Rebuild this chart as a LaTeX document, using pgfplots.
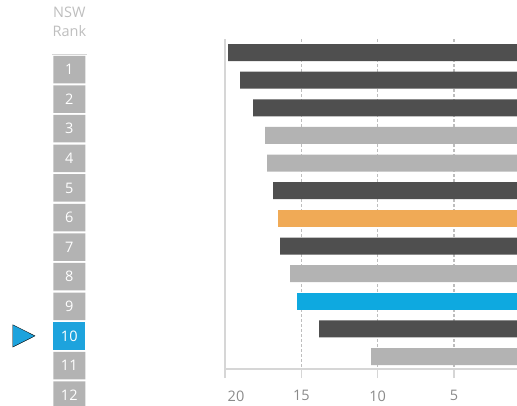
\documentclass[border=0pt]{standalone}
\usepackage{fontspec}
\setmainfont{Open Sans}
\usepackage{pgfplots}
\pgfplotsset{compat=1.18}

\definecolor{darkbar}{HTML}{4F4F4F}
\definecolor{lightbar}{HTML}{B3B3B3}
\definecolor{orangebar}{HTML}{F0AA56}
\definecolor{bluebar}{HTML}{0EA9E0}
\definecolor{rankblue}{HTML}{1DA3DD}
\definecolor{axisline}{HTML}{D6D6D6}
\definecolor{gridline}{HTML}{BEBEBE}
\definecolor{ticktext}{HTML}{8A8A8A}
\definecolor{headtext}{HTML}{BEBEBE}

\begin{document}
\begin{tikzpicture}[x=1pt,y=1pt]
\path[use as bounding box] (0,0) rectangle (517,405);

% bars: value per rank
\begin{axis}[
    at={(225pt,366pt)}, anchor=north west,
    scale only axis, width=292pt, height=330pt,
    xbar, bar width=17pt, bar shift=0pt,
    x dir=reverse, y dir=reverse,
    xmin=0.87, xmax=20, ymin=0.51, ymax=12.45,
    axis x line*=bottom, axis y line=none,
    axis line style={draw=axisline, line width=1.5pt},
    xtick={15,10,5}, ytick=\empty,
    extra x ticks={20},
    extra x tick style={grid style={solid, draw=axisline, line width=1.5pt},
        xticklabel style={xshift=11pt}},
    xmajorgrids,
    grid style={draw=gridline, line width=1.2pt, dash pattern=on 3pt off 2pt},
    tick style={draw=axisline, line width=1.5pt},
    major tick length=9pt, tick align=outside,
    ticklabel style={font=\fontsize{14.5}{17}\selectfont, text=ticktext},
    xticklabel style={yshift=-9pt},
    /pgf/number format/assume math mode=true,
]
\addplot[fill=darkbar, draw=none] coordinates {(19.80,1) (19.01,2) (18.16,3) (16.85,6) (16.39,8) (13.84,11)};
\addplot[fill=lightbar, draw=none] coordinates {(17.37,4) (17.24,5) (15.74,9) (10.43,12)};
\addplot[fill=orangebar, draw=none] coordinates {(16.52,7)};
\addplot[fill=bluebar, draw=none] coordinates {(15.28,10)};
\end{axis}

% rank column
\begin{axis}[
    at={(52pt,350.3pt)}, anchor=north west,
    scale only axis, width=34.7pt, height=355.2pt,
    y dir=reverse, clip=false,
    xmin=-0.04, xmax=1.044, ymin=0.5, ymax=12.5,
    axis lines=none, xtick=\empty, ytick=\empty,
    title={NSW\\Rank},
    title style={align=center, text=headtext, at={(0.5,1)}, anchor=south,
        inner sep=0pt, yshift=11.7pt, font=\fontsize{14.5}{19}\selectfont},
]
\addplot[xbar, bar width=27.5pt, bar shift=0pt, fill=lightbar, draw=none]
    coordinates {(1,1) (1,2) (1,3) (1,4) (1,5) (1,6) (1,7) (1,8) (1,9) (1,11) (1,12)};
\addplot[xbar, bar width=27.5pt, bar shift=0pt, fill=rankblue, draw=none]
    coordinates {(1,10)};
\addplot[only marks, mark=none, point meta=explicit symbolic,
    nodes near coords, nodes near coords align=center,
    every node near coord/.append style={text=white, font=\fontsize{14.5}{17}\selectfont}]
    coordinates {(0.5,1)[1] (0.5,2)[2] (0.5,3)[3] (0.5,4)[4] (0.5,5)[5] (0.5,6)[6]
                 (0.5,7)[7] (0.5,8)[8] (0.5,9)[9] (0.5,10)[10] (0.5,11)[11] (0.5,12)[12]};
\addplot[only marks, mark=triangle*, mark size=14.8pt,
    mark options={rotate=-90, xscale=0.87, fill=rankblue, draw=none}]
    coordinates {(-1.034,10)};
\draw[axisline, line width=1.5pt] (axis description cs:0,1) -- (axis description cs:1,1);
\end{axis}
\end{tikzpicture}
\end{document}
